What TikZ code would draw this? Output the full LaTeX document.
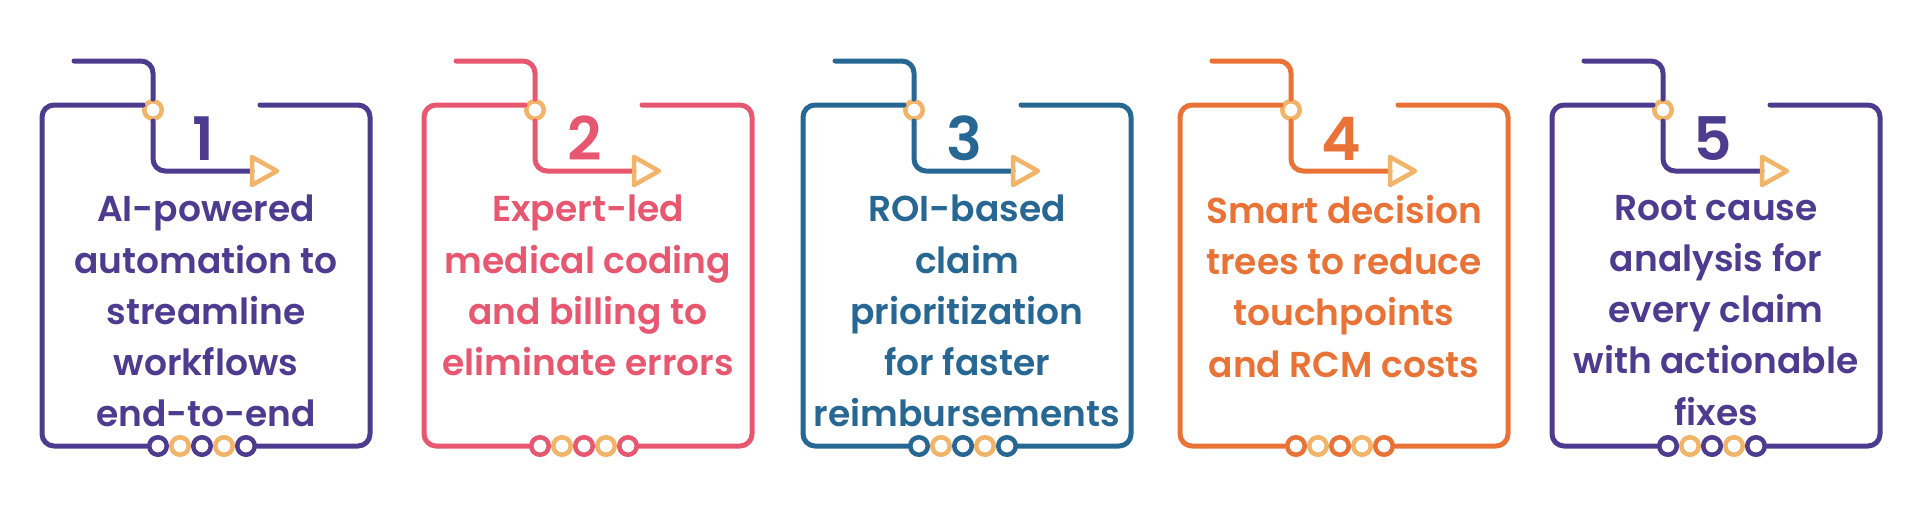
\documentclass[tikz,border=0pt]{standalone}
\usepackage{fontspec}
\setmainfont{Poppins}[BoldFont={Poppins SemiBold}]
\definecolor{cpurple}{RGB}{77,59,143}
\definecolor{cpink}{RGB}{232,87,112}
\definecolor{cblue}{RGB}{38,103,148}
\definecolor{corange}{RGB}{233,115,55}
\definecolor{accent}{RGB}{242,180,105}
\tikzset{
  ln/.style={line width=5pt, line cap=round, line join=round, rounded corners=12pt},
  ring/.style={circle, draw, line width=4.5pt, minimum size=17.5pt, inner sep=0pt, fill=white},
  tri/.style={draw=accent, line width=4.5pt, line join=round},
  numtxt/.style={inner sep=0pt, font=\fontsize{60}{60}\selectfont\bfseries},
  bodytxt/.style={inner sep=0pt, align=center, anchor=north, font=\fontsize{36}{51.2}\selectfont\bfseries}
}
\newcommand\mkpanel[5]{%
  \begin{scope}[shift={(#1,0)}]
    \node[ring, draw=accent] (c#4) at (111,110) {};
    \coordinate (s#4) at (32,61);
    \coordinate (tl#4) at (218,105);
    \coordinate (tb#4) at (210,171);
    \node[ring, draw=#2]    (ba#4) at (116,446) {};
    \node[ring, draw=accent] (bb#4) at (138,446) {};
    \node[ring, draw=#2]    (bc#4) at (160,446) {};
    \node[ring, draw=accent] (bd#4) at (182,446) {};
    \node[ring, draw=#2]    (be#4) at (204,446) {};
    \draw[ln, draw=#2] (s#4) -| (c#4.north);
    \draw[ln, draw=#2] (c#4.south) |- (tb#4);
    \draw[ln, draw=#2] (101,105) -- (0,105) -- (0,446) -- (ba#4.west);
    \draw[ln, draw=#2] (be#4.east) -- (328,446) -- (328,105) -- (tl#4);
    \draw[tri] (tb#4) -- (210,157) -- (235,171) -- (210,185) -- cycle;
    \node[numtxt, text=#2] (n#4) at (161,138.5) {#3};
    \node[bodytxt, text=#2] (t#4) at (164,195) {#5};
  \end{scope}}
\begin{document}
\begin{tikzpicture}[x=1pt,y=-1pt]
  \useasboundingbox[fill=white] (0,0) rectangle (1920,504);
  \mkpanel{42}{cpurple}{1}{1}{AI-powered\\automation to\\streamline\\workflows\\end-to-end}
  \mkpanel{424}{cpink}{2}{2}{Expert-led\\medical coding\\and billing to\\eliminate errors}
  \mkpanel{803}{cblue}{3}{3}{ROI-based\\claim\\prioritization\\for faster\\reimbursements}
  \mkpanel{1180}{corange}{4}{4}{Smart decision\\trees to reduce\\touchpoints\\and RCM costs}
  \mkpanel{1552}{cpurple}{5}{5}{Root cause\\analysis for\\every claim\\with actionable\\fixes}
\end{tikzpicture}
\end{document}
